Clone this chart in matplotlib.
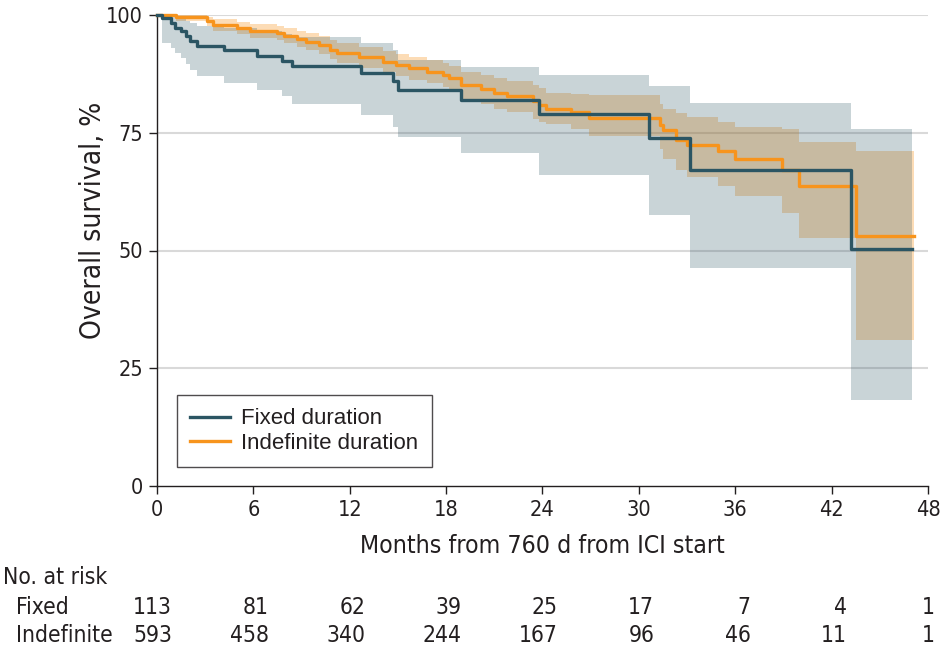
import matplotlib
matplotlib.use("Agg")
import matplotlib.pyplot as plt
from matplotlib import font_manager as fm

# pick a condensed font if one is installed
names = {f.name for f in fm.fontManager.ttflist}
cond_stretch = 'normal'
if 'Liberation Sans Narrow' in names:
    cond_family = 'Liberation Sans Narrow'
    scale = 1.0
elif any(f.name == 'DejaVu Sans' and str(f.stretch) in ('condensed', '600', 'semi-condensed') for f in fm.fontManager.ttflist):
    cond_family = 'DejaVu Sans'
    cond_stretch = 'condensed'
    scale = 0.9
else:
    cond_family = 'Liberation Sans'
    scale = 0.85

plt.rcParams['font.family'] = [cond_family, 'DejaVu Sans']
plt.rcParams['font.stretch'] = cond_stretch

# ---- data ----
fixed_t = [0, 0.3, 0.9, 1.1, 1.5, 1.8, 2.05, 2.5, 4.2, 6.2, 7.8, 8.4, 12.7, 14.7, 15.0, 18.9, 23.8, 30.6, 33.2, 43.2, 47.0]
fixed_s = [100, 99.3, 98.2, 97.3, 96.5, 95.5, 94.5, 93.5, 92.6, 91.4, 90.2, 89.2, 87.6, 86.0, 84.1, 82.0, 78.9, 73.8, 67.1, 50.3, 50.3]
fixed_lo = [100, 94.0, 92.9, 91.9, 90.8, 89.5, 88.3, 87.0, 85.6, 84.1, 82.7, 81.0, 78.8, 76.3, 74.0, 70.8, 66.0, 57.5, 46.3, 18.2, 18.2]
fixed_hi = [100, 100, 99.8, 99.5, 99.2, 98.8, 98.3, 97.6, 97.2, 96.6, 96.0, 95.3, 94.0, 92.6, 90.4, 89.0, 87.3, 84.9, 81.3, 75.8, 75.8]

indef_t = [0, 1.2, 3.1, 3.5, 5.0, 5.8, 7.5, 7.9, 8.7, 9.3, 10.1, 10.8, 11.2, 12.6, 14.1, 14.9, 15.7, 16.8, 17.8, 18.2, 18.9,
           20.2, 21.0, 21.8, 23.4, 23.8, 24.2, 25.8, 26.9, 31.3, 31.5, 32.3, 33.0, 34.9, 36.0, 38.9, 40.0, 43.5, 47.1]
indef_s = [100, 99.5, 98.8, 97.9, 97.3, 96.6, 96.2, 95.6, 95.0, 94.3, 93.6, 92.6, 91.9, 91.0, 90.1, 89.4, 88.7, 88.0, 87.3, 86.6, 85.2,
           84.3, 83.5, 82.7, 81.7, 80.8, 80.0, 79.5, 78.2, 76.6, 75.5, 73.4, 72.4, 71.1, 69.4, 67.1, 63.7, 53.1, 53.1]
indef_hi = [100, 100, 99.6, 99.2, 98.6, 98.1, 97.7, 97.2, 96.7, 96.1, 95.5, 94.6, 94.0, 93.2, 92.4, 91.8, 91.1, 90.5, 89.9, 89.2, 88.0,
            87.3, 86.6, 85.9, 85.1, 84.5, 83.5, 83.2, 83.0, 81.0, 80.1, 79.1, 78.3, 77.3, 76.2, 75.9, 73.1, 71.1, 71.1]
indef_lo = [100, 98.8, 97.7, 96.6, 96.0, 95.2, 94.6, 94.0, 93.2, 92.5, 91.7, 90.6, 89.8, 88.8, 87.8, 87.0, 86.2, 85.5, 84.7, 83.9, 82.2,
            81.1, 80.1, 79.3, 77.9, 77.3, 76.8, 75.8, 74.4, 71.5, 69.4, 67.1, 65.7, 63.6, 61.5, 57.9, 52.7, 31.0, 31.0]

risk_times = [0, 6, 12, 18, 24, 30, 36, 42, 48]
risk_fixed = [113, 81, 62, 39, 25, 17, 7, 4, 1]
risk_indef = [593, 458, 340, 244, 167, 96, 46, 11, 1]

teal = '#2b5563'
orange = '#f7941d'
ink = '#231f20'

tick_fs = 17.3 * scale
xlab_fs = 19.8 * scale
ylab_fs = 22.5 * scale
risk_fs = 18.2 * scale

fig = plt.figure(figsize=(9.45, 6.5), dpi=100)
ax = fig.add_axes([157/945, 1-486/650, (928-157)/945, (486-15)/650])

for yv in [25, 50, 75, 100]:
    ax.axhline(yv, color='#d9d9d9', lw=1.5, zorder=0)

ax.fill_between(indef_t, indef_lo, indef_hi, step='post', color=orange, alpha=0.32, lw=0, zorder=1)
ax.fill_between(fixed_t, fixed_lo, fixed_hi, step='post', color=teal, alpha=0.25, lw=0, zorder=2)
ax.step(indef_t, indef_s, where='post', color=orange, lw=2.4, zorder=3, clip_on=False, label='Indefinite duration')
ax.step(fixed_t, fixed_s, where='post', color=teal, lw=2.4, zorder=4, clip_on=False, label='Fixed duration')

ax.set_xlim(0, 48)
ax.set_ylim(0, 100)
ax.set_xticks(risk_times)
ax.set_yticks([0, 25, 50, 75, 100])
for s in ['top', 'right']:
    ax.spines[s].set_visible(False)
for s in ['left', 'bottom']:
    ax.spines[s].set_color(ink)
    ax.spines[s].set_linewidth(1.0)
ax.tick_params(axis='both', direction='out', length=6, width=1.0, colors=ink, labelsize=tick_fs)
ax.tick_params(axis='x', pad=4)
ax.tick_params(axis='y', pad=4)

fig.text(542/945, 1-546/650, 'Months from 760 d from ICI start', fontsize=xlab_fs, color=ink, ha='center', va='center')
fig.text(93/945, 1-220/650, 'Overall survival, %', fontsize=ylab_fs, color=ink, ha='center', va='center', rotation=90)

h, l = ax.get_legend_handles_labels()
leg = ax.legend(h[::-1], l[::-1], loc='lower left', bbox_to_anchor=((177-157)/771, (486-467)/471),
                frameon=True, fancybox=False, edgecolor=ink,
                prop={'family': ['Liberation Sans', 'DejaVu Sans'], 'size': 16, 'stretch': 'normal'},
                handlelength=1.8, borderpad=0.6, labelspacing=0.15, handletextpad=0.5, borderaxespad=0)
leg.get_frame().set_linewidth(1.0)
for t in leg.get_texts():
    t.set_color(ink)

# risk table
fig.text(3/945, 1-578/650, 'No. at risk', fontsize=risk_fs, color=ink, va='center', ha='left')
fig.text(16/945, 1-608/650, 'Fixed', fontsize=risk_fs, color=ink, va='center', ha='left')
fig.text(16/945, 1-635/650, 'Indefinite', fontsize=risk_fs, color=ink, va='center', ha='left')
for i, t in enumerate(risk_times):
    xd = t + 0.95 if t < 48 else 48.4
    xf = ax.transData.transform((xd, 0))[0] / fig.bbox.width
    fig.text(xf, 1-608/650, str(risk_fixed[i]), fontsize=risk_fs, color=ink, va='center', ha='right')
    fig.text(xf, 1-635/650, str(risk_indef[i]), fontsize=risk_fs, color=ink, va='center', ha='right')

fig.savefig('out.png', dpi=100)
